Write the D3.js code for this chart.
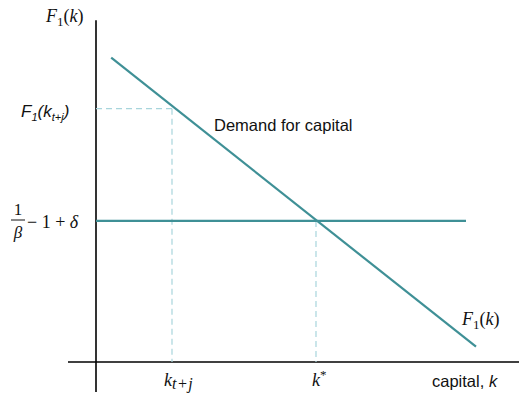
<!DOCTYPE html>
<html>
<head>
<meta charset="utf-8">
<script src="https://cdn.jsdelivr.net/npm/d3@7"></script>
<style>
  html, body { margin: 0; padding: 0; background: #fff; }
  svg { display: block; }
  .math { font-family: "Liberation Serif", "DejaVu Serif", serif; fill: #111; }
  .sans { font-family: "Liberation Sans", Arial, sans-serif; fill: #111; }
  .it { font-style: italic; }
  .up { font-style: normal; }
</style>
</head>
<body>
<svg id="chart" width="519" height="394"></svg>
<script>
// Demand for capital (marginal product F1(k)) as two end points [k, F1]
const demandLine = [[0.38, 8.95], [9.5, 0.45]];
// Required return 1/β − 1 + δ, drawn across the capital range
const rateLevel = 4.15;
const rateExtent = [0, 9.25];
// Capital levels marked on the axis
const kStar = 5.5;
const kTJ = 1.9;
const kTJValue = 7.45;
const axisXExtent = [-0.7, 10.6];
const axisYExtent = [-0.88, 10.05];

const svg = d3.select("#chart");
const x = d3.scaleLinear().domain([0, 10]).range([96, 496]);
const y = d3.scaleLinear().domain([0, 10]).range([362, 22]);

const teal = "#3f9096";
const dashCol = "#a8d5dc";

// Axes
svg.append("line")
  .attr("x1", x(axisXExtent[0])).attr("x2", x(axisXExtent[1]))
  .attr("y1", y(0)).attr("y2", y(0))
  .attr("stroke", "#000").attr("stroke-width", 1.6);
svg.append("line")
  .attr("x1", x(0)).attr("x2", x(0))
  .attr("y1", y(axisYExtent[0])).attr("y2", y(axisYExtent[1]))
  .attr("stroke", "#000").attr("stroke-width", 1.6);

// Dashed guides
const guides = [
  [[0, kTJValue], [kTJ, kTJValue]],
  [[kTJ, kTJValue], [kTJ, 0]],
  [[kStar, rateLevel], [kStar, 0]]
];
const line = d3.line().x(d => x(d[0])).y(d => y(d[1]));
svg.selectAll("path.guide").data(guides).join("path")
  .attr("class", "guide")
  .attr("d", line)
  .attr("fill", "none")
  .attr("stroke", dashCol)
  .attr("stroke-width", 1.2)
  .attr("stroke-dasharray", "6,4");

// Required return line
svg.append("path")
  .attr("d", line([[rateExtent[0], rateLevel], [rateExtent[1], rateLevel]]))
  .attr("stroke", teal).attr("stroke-width", 2.2).attr("fill", "none");

// Demand line
svg.append("path")
  .attr("d", line(demandLine))
  .attr("stroke", teal).attr("stroke-width", 2.2).attr("fill", "none");

// F1(k) label with subscript
function f1k(xp, yp) {
  const t = svg.append("text").attr("class", "math").attr("x", xp).attr("y", yp).attr("font-size", 18);
  t.append("tspan").attr("class", "it").text("F");
  t.append("tspan").attr("class", "up").attr("font-size", 13).attr("dy", 4).text("1");
  t.append("tspan").attr("class", "up").attr("dy", -4).text("(");
  t.append("tspan").attr("class", "it").text("k");
  t.append("tspan").attr("class", "up").text(")");
}
f1k(46, 22);
f1k(462, 325);

const t2 = svg.append("text").attr("class", "sans it").attr("x", 21).attr("y", 117)
  .attr("font-size", 17);
t2.append("tspan").text("F");
t2.append("tspan").attr("font-size", 11).attr("dy", 4).text("1");
t2.append("tspan").attr("dy", -4).text("(k");
t2.append("tspan").attr("font-size", 11).attr("dy", 4).text("t+j");
t2.append("tspan").attr("dy", -4).text(")");

// Fraction 1/β − 1 + δ
svg.append("text").attr("class", "math up")
  .attr("x", 18).attr("y", 215).attr("font-size", 17).attr("text-anchor", "middle").text("1");
svg.append("line").attr("x1", 11).attr("x2", 25).attr("y1", 220).attr("y2", 220)
  .attr("stroke", "#111").attr("stroke-width", 1);
svg.append("text").attr("class", "math it")
  .attr("x", 18).attr("y", 238).attr("font-size", 17).attr("text-anchor", "middle").text("β");
const t3 = svg.append("text").attr("class", "math").attr("x", 27).attr("y", 228).attr("font-size", 18);
t3.append("tspan").attr("class", "up").text("− 1 + ");
t3.append("tspan").attr("class", "it").text("δ");

svg.append("text").attr("class", "sans").attr("x", 214).attr("y", 131)
  .attr("font-size", 16.5).text("Demand for capital");

const t5 = svg.append("text").attr("class", "math").attr("x", 164).attr("y", 386).attr("font-size", 18);
t5.append("tspan").attr("class", "it").text("k");
t5.append("tspan").attr("class", "it").attr("font-size", 16).attr("dy", 3).attr("letter-spacing", 0.5).text("t+j");

const t6 = svg.append("text").attr("class", "math").attr("x", 312).attr("y", 386).attr("font-size", 18);
t6.append("tspan").attr("class", "it").text("k");
t6.append("tspan").attr("class", "up").attr("font-size", 13).attr("dy", -7).text("*");

const t7 = svg.append("text").attr("class", "sans").attr("x", 432).attr("y", 387).attr("font-size", 16.5);
t7.append("tspan").text("capital, ");
t7.append("tspan").attr("class", "it").text("k");
</script>
</body>
</html>
